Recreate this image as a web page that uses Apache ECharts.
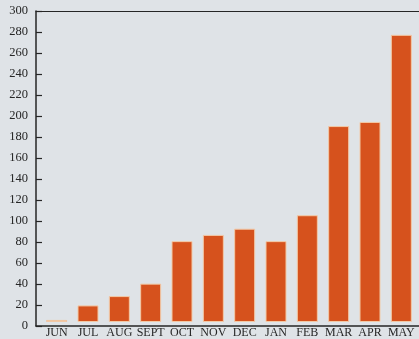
<!DOCTYPE html>
<html>
<head>
<meta charset="utf-8">
<script src="https://cdn.jsdelivr.net/npm/echarts@6/dist/echarts.min.js"></script>
<style>
  html, body { margin: 0; padding: 0; background: #dfe3e7; }
  #chart { width: 419px; height: 339px; }
</style>
</head>
<body>
<div id="chart"></div>
<script>
// Monthly totals, June through May
const months = ['JUN', 'JUL', 'AUG', 'SEPT', 'OCT', 'NOV', 'DEC', 'JAN', 'FEB', 'MAR', 'APR', 'MAY'];
const totals = [2, 16, 25, 37, 78, 84, 90, 78, 103, 189, 193, 277];
const yMin = 0;
const yMax = 300;
const yStep = 20;

const ink = '#262626';
const serif = '"Liberation Serif", "DejaVu Serif", serif';

const chart = echarts.init(document.getElementById('chart'), null, { renderer: 'canvas' });

chart.setOption({
  backgroundColor: '#dfe3e7',
  animation: false,
  grid: [
    // bars
    { left: 41, right: 2, top: 11, bottom: 13 },
    // frame lines and value scale
    { left: 36, right: 0, top: 11, bottom: 13 }
  ],
  xAxis: [
    {
      type: 'category', gridIndex: 0, data: months,
      axisLine: { show: false }, axisTick: { show: false },
      axisLabel: { color: ink, fontFamily: serif, fontSize: 12, margin: 5, interval: 0 }
    },
    {
      type: 'value', gridIndex: 1, position: 'bottom', min: 0, max: 1,
      axisLine: { show: true, lineStyle: { color: ink, width: 1.5 } },
      axisTick: { show: false }, axisLabel: { show: false }, splitLine: { show: false }
    },
    {
      type: 'value', gridIndex: 1, position: 'top', min: 0, max: 1,
      axisLine: { show: true, lineStyle: { color: ink, width: 1.2 } },
      axisTick: { show: false }, axisLabel: { show: false }, splitLine: { show: false }
    }
  ],
  yAxis: [
    {
      type: 'value', gridIndex: 0, min: yMin, max: yMax, interval: yStep,
      show: false
    },
    {
      type: 'value', gridIndex: 1, min: yMin, max: yMax, interval: yStep,
      axisLine: { show: true, lineStyle: { color: ink, width: 1.5 } },
      axisTick: { show: true, inside: true, length: 6, lineStyle: { color: ink, width: 1.2 } },
      axisLabel: { color: ink, fontFamily: serif, fontSize: 12.5, margin: 8 },
      splitLine: { show: false }
    }
  ],
  series: [
    {
      type: 'bar', xAxisIndex: 0, yAxisIndex: 0,
      data: totals,
      barWidth: 21,
      itemStyle: { color: '#d6521d', borderColor: '#f2c9a6', borderWidth: 1 }
    }
  ]
});
</script>
</body>
</html>
